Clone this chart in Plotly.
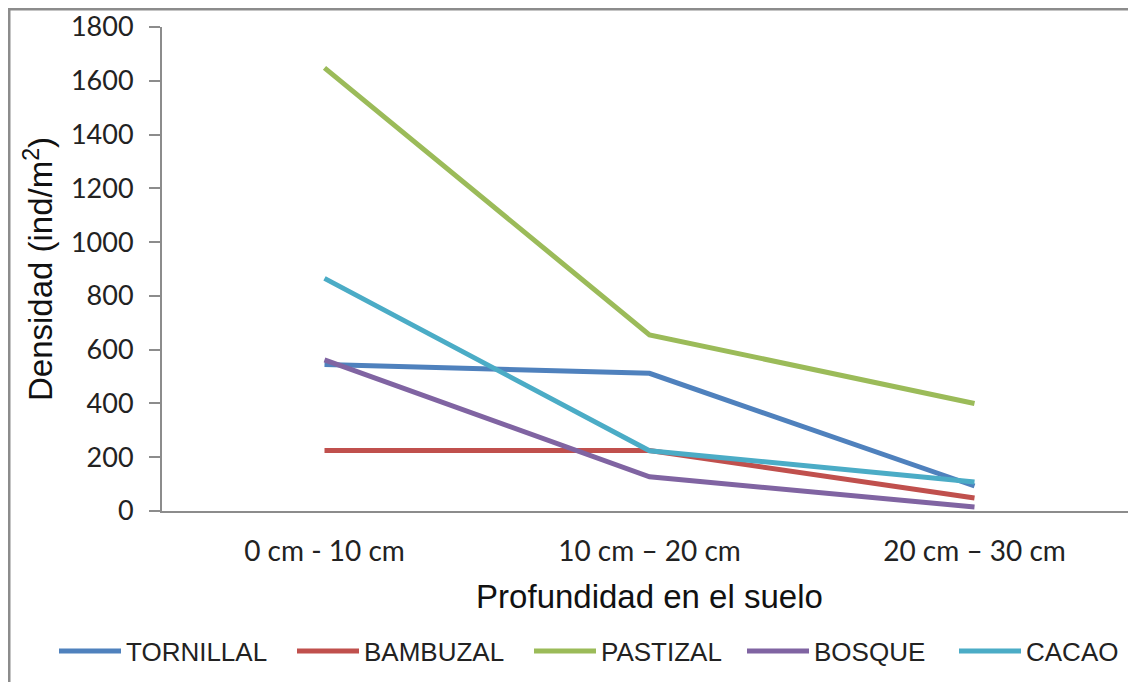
import plotly.graph_objects as go

categories = ["0 cm - 10 cm", "10 cm – 20 cm", "20 cm – 30 cm"]
tornillal = [545, 512, 93]
bambuzal = [225, 225, 48]
pastizal = [1648, 655, 400]
bosque = [562, 127, 15]
cacao = [865, 224, 108]

series = [
    ("TORNILLAL", tornillal, "#4F81BD"),
    ("BAMBUZAL", bambuzal, "#C0504D"),
    ("PASTIZAL", pastizal, "#9BBB59"),
    ("BOSQUE", bosque, "#8064A2"),
    ("CACAO", cacao, "#4BACC6"),
]
# page x (px) where each legend entry's line begins
legend_left = [60, 298, 535, 748, 960]

W, H = 1136, 682
# the page places the figure 8 px from the top-left corner
ML, MR, MT, MB = 154, 7, 19, 179

fig = go.Figure()
legend_layouts = {}
for i, (name, vals, col) in enumerate(series):
    key = "legend" if i == 0 else f"legend{i + 1}"
    fig.add_trace(go.Scatter(x=categories, y=vals, name=name, mode="lines",
                             line=dict(color=col, width=5), legend=key))
    legend_layouts[key] = dict(
        orientation="h", xref="container", yref="container",
        x=(legend_left[i] - 14) / W, xanchor="left",
        y=(H - 643) / H, yanchor="middle",
        font=dict(family="Liberation Sans, Arial", size=26, color="#222"),
        itemwidth=62, bgcolor="rgba(0,0,0,0)")

pw = W - ML - MR
ph = H - MT - MB
x0 = (1 - ML) / pw
y1 = (H - MB - 1) / ph
fig.add_shape(type="path", xref="paper", yref="paper",
              path=f"M {x0},-0.5 L {x0},{y1} L 1.2,{y1}",
              line=dict(color="#8c8c8c", width=3))

fig.update_layout(
    width=W, height=H,
    margin=dict(l=ML, r=MR, t=MT, b=MB, autoexpand=False),
    paper_bgcolor="white", plot_bgcolor="white",
    showlegend=True,
    xaxis=dict(range=[-0.5, 2.5], showgrid=False, showline=True, linecolor="#8c8c8c", linewidth=2,
               ticks="", tickfont=dict(family="Lato", size=28, color="#222"),
               ticklabelstandoff=14, automargin=False,
               title=dict(text="Profundidad en el suelo", standoff=19,
                          font=dict(family="Liberation Sans, Arial", size=33, color="#111"))),
    yaxis=dict(range=[0, 1800], dtick=200, showgrid=False, showline=True,
               linecolor="#8c8c8c", linewidth=2, ticks="outside", ticklen=11,
               tickcolor="#8c8c8c", tickwidth=2, zeroline=False,
               tickfont=dict(family="Lato", size=27, color="#222"),
               ticklabelstandoff=10, automargin=False,
               title=dict(text="Densidad (ind/m<sup>2</sup>)", standoff=8,
                          font=dict(family="Liberation Sans, Arial", size=33, color="#111"))),
    **legend_layouts,
)

fig.write_html("out.html")
